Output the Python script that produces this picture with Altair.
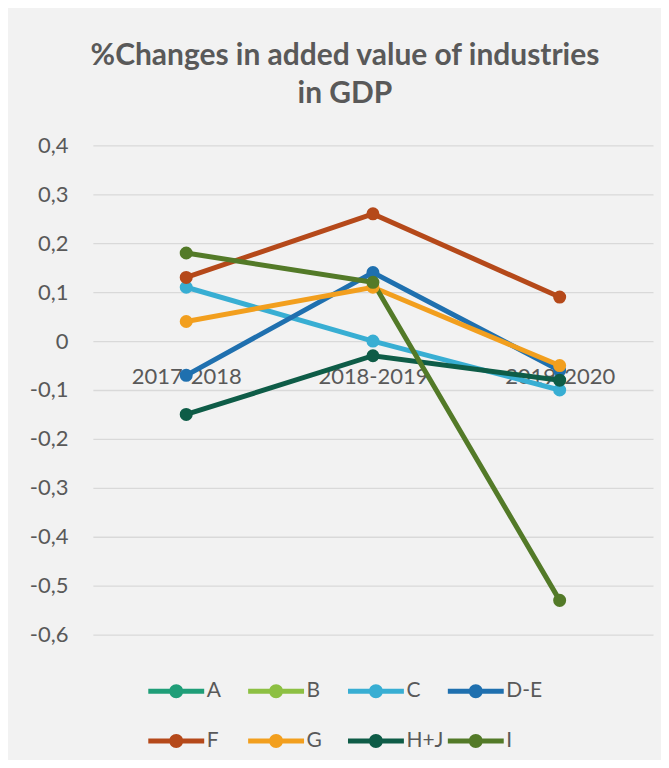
import altair as alt
import pandas as pd

periods = ["2017-2018", "2018-2019", "2019-2020"]
series_names = ["A", "B", "C", "D-E", "F", "G", "H+J", "I"]
series_colors = ["#1F9E78", "#8DC043", "#38AED3", "#1F70AF", "#B5491A", "#F29F1E", "#0E5C47", "#537A28"]

vals_C = [0.11, 0.00, -0.10]
vals_DE = [-0.07, 0.14, -0.06]
vals_F = [0.13, 0.26, 0.09]
vals_G = [0.04, 0.11, -0.05]
vals_HJ = [-0.15, -0.03, -0.08]
vals_I = [0.18, 0.12, -0.53]

y_ticks = [-0.6, -0.5, -0.4, -0.3, -0.2, -0.1, 0.0, 0.1, 0.2, 0.3, 0.4]

rows = []
for name, vals in [("C", vals_C), ("D-E", vals_DE), ("F", vals_F), ("G", vals_G), ("H+J", vals_HJ), ("I", vals_I)]:
    for p, v in zip(periods, vals):
        rows.append({"period": p, "series": name, "value": v, "order": series_names.index(name)})
df = pd.DataFrame(rows)

FONT = "Lato"
TXT = "#595959"

legend_path = ("M-4,-0.36 L4,-0.36 L4,0.36 L-4,0.36 Z "
               "M-1,0 A1,1 0 1,1 1,0 A1,1 0 1,1 -1,0 Z")

x_enc = alt.X("period:N", sort=periods,
              scale=alt.Scale(domain=periods, padding=0.5),
              axis=alt.Axis(title=None, labelAngle=0, domain=False, ticks=False, tickSize=0,
                            offset=-294, labelPadding=25, labelFont=FONT, labelFontSize=22,
                            labelColor=TXT, grid=False))
y_enc = alt.Y("value:Q",
              scale=alt.Scale(domain=[-0.6, 0.4], nice=False, zero=False),
              axis=alt.Axis(title=None, values=y_ticks, domain=False, ticks=False, tickSize=0,
                            labelPadding=25, labelFont=FONT, labelFontSize=22, labelColor=TXT,
                            gridColor="#D9D9D9", gridWidth=1.3, minExtent=75, maxExtent=75,
                            labelExpr="datum.value == 0 ? '0' : replace(replace(format(datum.value, '.1f'), '.', ','), '\u2212', '-')"))

color_scale = alt.Scale(domain=series_names, range=series_colors)
legend = alt.Legend(title=None, orient="none", legendX=73, legendY=536,
                    direction="horizontal", columns=4, gridAlign="all",
                    columnPadding=3, rowPadding=28, padding=0,
                    symbolType=legend_path, symbolSize=196, symbolStrokeWidth=0,
                    symbolOpacity=1, labelOffset=20,
                    labelFont=FONT, labelFontSize=21, labelColor=TXT)
color_enc = alt.Color("series:N", scale=color_scale, legend=legend)

lines = alt.Chart(df).mark_line(strokeWidth=5).encode(
    x=x_enc, y=y_enc, color=color_enc, order=alt.Order("order:Q"),
)

points = alt.Chart(df).mark_point(filled=True, size=170, opacity=1).encode(
    x=x_enc, y=y_enc, color=color_enc, order=alt.Order("order:Q"),
)

chart = alt.layer(lines, points).properties(
    width=561, height=490,
    background="#F2F2F2",
    padding={"left": 10, "top": 33, "right": 8, "bottom": 8},
    title=alt.Title(["%Changes in added value of industries", "in GDP"],
                    font=FONT, fontSize=30, fontWeight="bold", color=TXT,
                    anchor="middle", offset=25, dx=-28, lineHeight=38),
).configure_view(stroke=None)

chart.save("out.html", embed_options={"renderer": "svg", "actions": False})
